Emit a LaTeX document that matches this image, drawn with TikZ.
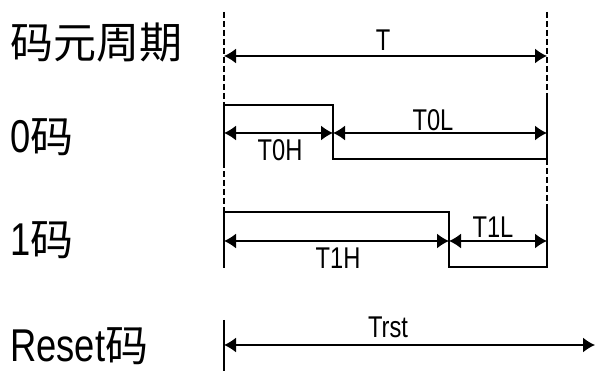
\documentclass[tikz,border=0pt]{standalone}
\usepackage{fontspec}
\newfontfamily\cjkfont{Noto Sans CJK SC}
\newfontfamily\rowfont[FakeStretch=0.79]{Liberation Sans}
\newfontfamily\dimfont[FakeStretch=0.79]{Liberation Sans}
\usetikzlibrary{arrows.meta,positioning}
\begin{document}
\begin{tikzpicture}[x=1pt,y=-1pt]
\tikzstyle{dim}=[{Latex[length=12pt,width=15pt]}-{Latex[length=12pt,width=15pt]},line width=1.5pt]
\tikzstyle{wave}=[line width=1.5pt]
\tikzstyle{guide}=[line width=1.2pt,dash pattern=on 6pt off 3pt]
\tikzstyle{rowlbl}=[anchor=west,inner sep=0pt,font=\rowfont\fontsize{46}{50}\selectfont]
\tikzstyle{dimlbl}=[inner sep=0pt,font=\dimfont\fontsize{30}{34}\selectfont]
\useasboundingbox (0,0) rectangle (595,371);
% row labels
\node[rowlbl] (rowT) at (10,43) {\cjkfont\fontsize{43}{48}\selectfont 码元周期};
\node[rowlbl] (row0) at (10,137) {0\cjkfont\fontsize{43}{48}\selectfont 码};
\node[rowlbl] (row1) at (10,240) {1\cjkfont\fontsize{43}{48}\selectfont 码};
\node[rowlbl] (rowR) at (10,346) {Reset\cjkfont\fontsize{43}{48}\selectfont 码};
% guide lines
\coordinate (Ltop) at (224,12);  \coordinate (Rtop) at (547,12);
\coordinate (TL) at (224,56);    \coordinate (TR) at (547,56);
\coordinate (A0) at (224,105);   \coordinate (B0) at (333,105);
\coordinate (C0) at (333,159);   \coordinate (D0) at (547,159);
\coordinate (E0) at (547,97);    \coordinate (F0) at (224,162);
\coordinate (A1) at (224,212);   \coordinate (B1) at (449,212);
\coordinate (C1) at (449,267);   \coordinate (D1) at (547,267);
\coordinate (E1) at (547,205);   \coordinate (F1) at (224,268);
\coordinate (AR) at (224,320);   \coordinate (FR) at (224,371);
\draw[guide] (Ltop)--(A0) (F0)--(A1);
\draw[guide] (Rtop)--(E0) (D0)--(E1);
% waveforms
\draw[wave] (F0)--(A0)--(B0)--(C0)--(D0)--(E0);
\draw[wave] (F1)--(A1)--(B1)--(C1)--(D1)--(E1);
\draw[wave] (AR)--(FR);
% dimensions
\coordinate (H0L) at (224,133); \coordinate (H0M) at (333,133); \coordinate (H0R) at (547,133);
\coordinate (H1L) at (224,241); \coordinate (H1M) at (449,241); \coordinate (H1R) at (547,241);
\coordinate (HRL) at (224,345); \coordinate (HRR) at (595,345);
\draw[dim] (TL)--(TR);
\draw[dim] (H0L)--(H0M); \draw[dim] (H0M)--(H0R);
\draw[dim] (H1L)--(H1M); \draw[dim] (H1M)--(H1R);
\draw[dim] (HRL)--(HRR);
\node[dimlbl] (lblT) at (383,40) {T};
\node[dimlbl] (lblT0L) at (433,120) {T0L};
\node[dimlbl] (lblT0H) at (280,150) {T0H};
\node[dimlbl] (lblT1L) at (493,227) {T1L};
\node[dimlbl] (lblT1H) at (338,258) {T1H};
\node[dimlbl] (lblTrst) at (388,327) {Trst};
\end{tikzpicture}
\end{document}
